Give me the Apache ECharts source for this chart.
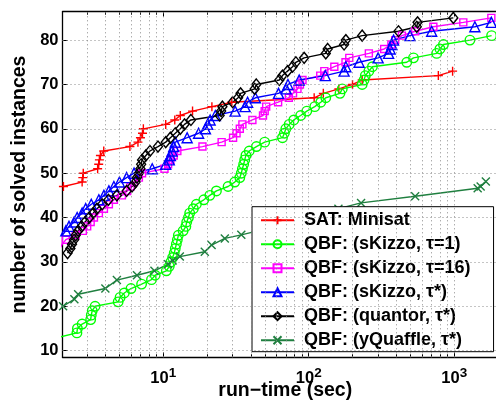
<!DOCTYPE html>
<html><head><meta charset="utf-8">
<script src="https://cdn.jsdelivr.net/npm/echarts@6/dist/echarts.min.js"></script>
<style>html,body{margin:0;padding:0;overflow:hidden;background:#fff}#c{width:500px;height:402px}</style>
</head><body><div id="c"></div>
<script>
// ---- data (run-time sec, number of solved instances) ----
const satMinisat = [[2.06,47],[2.77,48],[2.8,49],[2.82,50],[3.54,51],[3.6,52],[3.64,53],[3.7,54],[3.9,55],[5.9,56],[6.7,57],[6.97,58],[7.2,59],[7.3,60],[10.4,61],[12,62],[13.1,63],[15.9,64],[21.6,65],[29.6,66],[109,67],[126,68],[161,69],[200,70],[233,71],[778,72],[975,73]];
const skizzoT1 = [[1.8,12.8],[2.55,14],[2.57,15],[2.77,16],[3.17,17],[3.2,18],[3.25,19],[3.4,20],[4.9,21],[5.05,22],[5.4,23],[6.0,24],[7.1,25],[8.3,26],[8.8,27],[10.5,28],[11,29],[11.3,30],[11.6,31],[11.9,32],[12.1,33],[12.3,34],[12.5,35],[12.7,36],[13.7,37],[14.3,38],[14.5,39],[14.9,40],[15.2,41],[16.1,42],[16.9,43],[19,44],[20.9,45],[23.2,46],[27.9,47],[31,48],[33.6,49],[34.4,50],[35,51],[35.7,52],[36.3,53],[37,54],[39,55],[43.7,56],[49.8,57],[66,58],[68,59],[69.6,60],[73.4,61],[79,62],[88,63],[97,64],[110,65],[121,66],[131,67],[164,68],[170,69],[233,70],[240,71],[245,72],[259,73],[274,74],[472,75],[525,76],[758,77],[798,78],[843,79],[1283,80],[1807,81]];
const skizzoT16 = [[1.95,33],[2.02,34],[2.14,35],[2.5,36],[2.8,37],[3.0,38],[3.17,39],[3.34,40],[3.61,41],[3.91,42],[4.23,43],[4.58,44],[5.2,45],[5.65,46],[5.96,47],[6.28,48],[6.8,49],[7.15,50],[10.2,51],[10.8,52],[11.2,53],[11.8,54],[12.5,55],[18.6,56],[25.2,57],[30.2,58],[31.9,59],[33.6,60],[35,61],[41,62],[48.5,63],[49.8,64],[51,65],[61.6,66],[73,67],[78,68],[83.7,69],[87,70],[90.6,71],[120,72],[128,73],[150,74],[179,75],[190,76],[259,77],[330,78],[370,79],[393,80],[437,81],[539,82],[719,83],[1155,84],[1800,85]];
const skizzoTStar = [[2.02,36],[2.14,37],[2.25,38],[2.44,39],[2.56,40],[2.77,41],[2.93,42],[3.2,43],[3.61,44],[3.91,45],[4.23,46],[4.58,47],[5.0,48],[5.6,49],[6.3,50],[8.4,51],[10.4,52],[11,53],[11.2,54],[11.5,55],[11.8,56],[12.1,57],[14.6,58],[17.5,59],[19.5,60],[20.2,61],[21,62],[22.8,63],[31.2,64],[36.5,65],[38,66],[43,67],[62,68],[70,69],[72,70],[86,71],[130,72],[175,73],[180,74],[222,75],[300,76],[354,77],[363,78],[373,79],[383,80],[497,81],[700,82],[1387,83],[1800,84]];
const quantorTStar = [[2.2,32],[2.3,33],[2.36,34],[2.44,35],[2.5,36],[2.6,37],[2.75,38],[2.9,39],[3.1,40],[3.3,41],[3.5,42],[3.8,43],[4.2,44],[4.8,45],[5.6,46],[6.1,47],[6.45,48],[6.6,49],[6.8,50],[6.97,51],[7.05,52],[7.15,53],[7.6,54],[8.1,55],[9.2,56],[10.4,57],[11.2,58],[12.1,59],[13.1,60],[14,61],[15.5,62],[24.4,63],[25,64],[25.5,65],[30,66],[32.7,67],[34,68],[42.5,69],[43.6,70],[62.8,71],[66,72],[71.5,73],[77.4,74],[81.6,75],[93,76],[131,77],[135,78],[175,79],[180,80],[233,81],[414,82],[553,83],[560,84],[986,85]];
const yquaffleTStar = [[1.8,19],[2.05,20],[2.45,21.6],[2.6,22.7],[4.0,24],[4.8,25.9],[6.6,27],[8.7,28],[10.8,29.5],[11.6,30.3],[13,31.2],[19.3,32.3],[21.5,33.8],[26.5,35.3],[34.4,36.1],[60,38],[100,40],[160,42],[229,43.3],[539,44.8],[1450,46.6],[1520,47],[1650,48.1]];

const seriesNames = ['SAT: Minisat','QBF: (sKizzo, τ=1)','QBF: (sKizzo, τ=16)','QBF: (sKizzo, τ*)','QBF: (quantor, τ*)','QBF: (yQuaffle, τ*)'];
const xMajorTicks = [10,100,1000];
const xMinorTicks = [3,4,5,6,7,8,9,20,30,40,50,60,70,80,90,200,300,400,500,600,700,800,900];
const yTicks = [10,20,30,40,50,60,70,80];
const xRange = [2.03, 2000];
const yRange = [8.5, 86.4];

const FONT = 'Liberation Sans, Arial, Helvetica, sans-serif';
const PLUS = 'path://M5,0L5,10M0,5L10,5';
const CROSS = 'path://M0,0L10,10M10,0L0,10';

function mk(name, data, color, symbol, size, fillNone) {
  return {
    name: name, type: 'line', data: data, z: 3,
    symbol: symbol, symbolSize: size, showSymbol: true,
    lineStyle: {color: color, width: 1.4},
    itemStyle: {color: fillNone ? 'rgba(0,0,0,0)' : color, borderColor: color, borderWidth: 1.4},
    emphasis: {disabled: true}, silent: true, clip: true, animation: false
  };
}

const gridLines = [];
xMajorTicks.concat(xMinorTicks).forEach(v => gridLines.push({xAxis: v}));
yTicks.forEach(v => gridLines.push({yAxis: v}));

const lineCol = '#000';
function xAxisDef(pos, ticks, len, showLine, showLabel) {
  return {
    type: 'log', logBase: 10, min: xRange[0], max: xRange[1], position: pos,
    axisLine: {show: showLine, onZero: false, lineStyle: {color: lineCol, width: 1.3}},
    axisTick: {show: true, inside: true, length: len, customValues: ticks, lineStyle: {color: lineCol, width: 1}},
    axisLabel: showLabel ? {
      show: true, customValues: ticks, margin: 9,
      formatter: function (v) { return '{b|10}{s|' + Math.round(Math.log10(v)) + '}'; },
      rich: {
        b: {fontFamily: FONT, fontWeight: 'bold', fontSize: 16.5, color: '#000'},
        s: {fontFamily: FONT, fontWeight: 'bold', fontSize: 13.5, color: '#000', padding: [0,0,10,0]}
      }
    } : {show: false},
    splitLine: {show: false}, minorTick: {show: false}
  };
}

const option = {
  animation: false,
  backgroundColor: '#fff',
  grid: {left: 62.5, top: 11.7, right: 2, bottom: 44.7, containLabel: false, outerBoundsMode: 'none'},
  xAxis: [
    Object.assign(xAxisDef('bottom', xMajorTicks, 5, true, true), {
      name: 'run\u2212time (sec)', nameLocation: 'middle', nameGap: 23, nameMoveOverlap: false,
      nameTextStyle: {fontFamily: FONT, fontWeight: 'bold', fontSize: 19.5, color: '#000', padding: [0,0,0,10], verticalAlign: 'top'}
    }),
    xAxisDef('bottom', xMinorTicks, 3, false, false),
    xAxisDef('top', xMajorTicks, 5, true, false),
    xAxisDef('top', xMinorTicks, 3, false, false)
  ],
  yAxis: [{
    type: 'value', min: yRange[0], max: yRange[1], position: 'left',
    name: 'number of solved instances', nameLocation: 'middle', nameGap: 33, nameMoveOverlap: false,
    nameTextStyle: {fontFamily: FONT, fontWeight: 'bold', fontSize: 19.5, color: '#000'},
    axisLine: {show: true, onZero: false, lineStyle: {color: lineCol, width: 1.3}},
    axisTick: {show: true, inside: true, length: 5, customValues: yTicks, lineStyle: {color: lineCol, width: 1}},
    axisLabel: {show: true, customValues: yTicks, margin: 4, fontFamily: FONT, fontWeight: 'bold', fontSize: 16.5, color: '#000'},
    splitLine: {show: false}
  }],
  legend: {
    data: seriesNames, orient: 'vertical', left: 252, top: 206.7,
    backgroundColor: '#fff', borderColor: '#000', borderWidth: 1,
    padding: [3, 23, 1, 8], itemWidth: 33, itemHeight: 10, itemGap: 3,
    selectedMode: false,
    textStyle: {fontFamily: FONT, fontWeight: 'bold', fontSize: 18, lineHeight: 21, color: '#000', padding: [0,0,0,5]}
  },
  series: [
    {type: 'line', data: [], z: 1, silent: true, xAxisIndex: 0, yAxisIndex: 0,
     markLine: {silent: true, symbol: 'none', animation: false, label: {show: false},
       lineStyle: {color: '#8a8a8a', width: 1, type: [1, 3]}, emphasis: {disabled: true}, data: gridLines}},
    mk(seriesNames[0], satMinisat, '#ff0000', PLUS, 9, false),
    mk(seriesNames[1], skizzoT1, '#00ff00', 'circle', 9.5, true),
    mk(seriesNames[2], skizzoT16, '#ff00ff', 'rect', 7, true),
    mk(seriesNames[3], skizzoTStar, '#0000ff', 'triangle', 10, true),
    mk(seriesNames[4], quantorTStar, '#000000', 'diamond', [9, 11], true),
    mk(seriesNames[5], yquaffleTStar, '#1f7f3f', CROSS, 8, false)
  ]
};
const chart = echarts.init(document.getElementById('c'));
chart.setOption(option);
</script>
</body></html>
